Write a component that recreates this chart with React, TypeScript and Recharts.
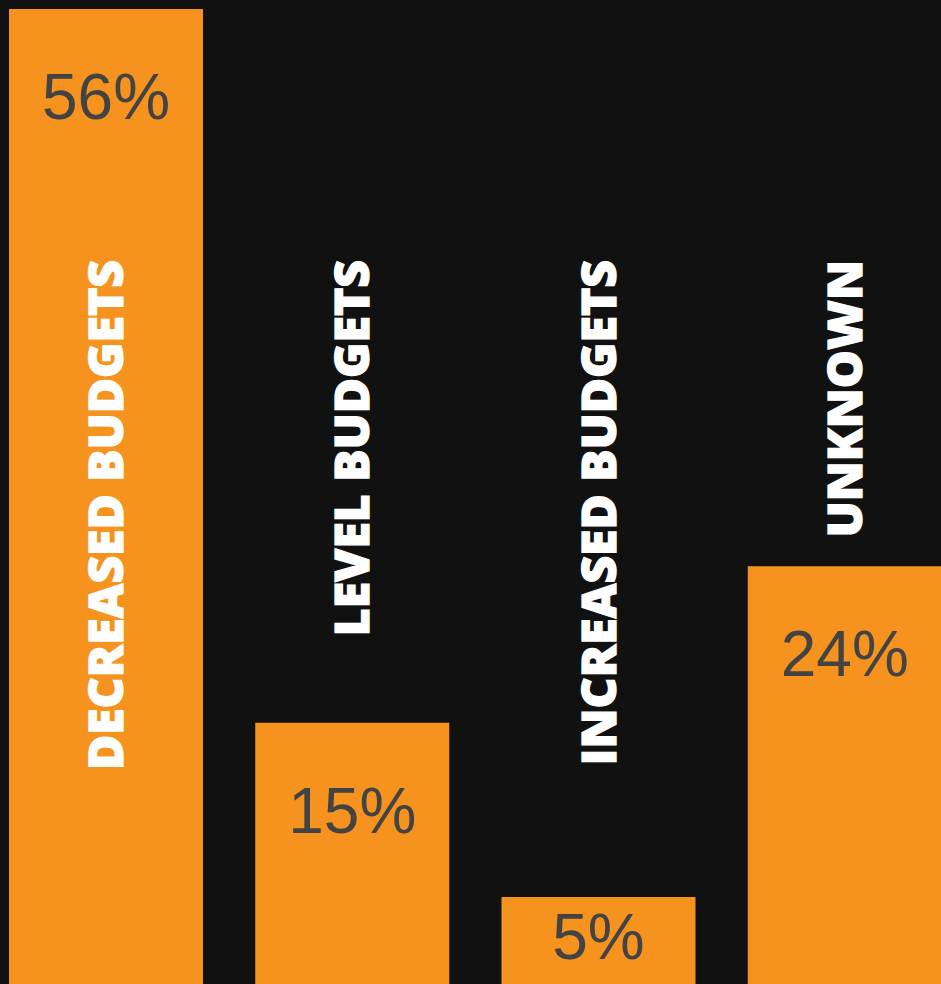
import { BarChart, Bar, XAxis, YAxis, LabelList } from "recharts";

const categories = ["DECREASED BUDGETS", "LEVEL BUDGETS", "INCREASED BUDGETS", "UNKNOWN"];
const shares = [56, 15, 5, 24];

const chartData = categories.map((name, i) => ({ name, share: shares[i] }));

const ORANGE = "#f6931f";
const BG = "#111111";

// percent value, sits near the top of each bar (centred when the bar is short)
function ValueLabel(props: any) {
  const { x, y, width, height, value } = props;
  const baseline = y + Math.min(110, height / 2 + 19);
  return (
    <text
      x={x + width / 2}
      y={baseline}
      textAnchor="middle"
      fill="#434343"
      fontFamily="'Liberation Sans', Arial, sans-serif"
      fontSize={64}
    >
      {value}%
    </text>
  );
}

// rotated category name, all ending at the same height
function CategoryLabel(props: any) {
  const { x, width, value } = props;
  const cx = x + width / 2 + 17;
  return (
    <text
      transform={`translate(${cx}, 260) rotate(-90)`}
      textAnchor="end"
      fill="#ffffff"
      stroke="#ffffff"
      strokeWidth={1.2}
      fontFamily="'Open Sans', Lato, sans-serif"
      fontWeight={800}
      fontSize={48}
    >
      {value}
    </text>
  );
}

export default function App() {
  return (
    <div style={{ width: 941, height: 984, overflow: "hidden", background: BG, position: "relative" }}>
      <style>{"body{margin:0;background:#111111}"}</style>
      <div style={{ position: "absolute", left: -17, top: 0 }}>
        <BarChart
          width={985}
          height={984}
          data={chartData}
          margin={{ top: 9, right: 0, bottom: 0, left: 0 }}
          barCategoryGap={26}
        >
          <XAxis dataKey="name" hide />
          <YAxis hide domain={[0, 56]} />
          <Bar dataKey="share" fill={ORANGE} isAnimationActive={false}>
            <LabelList dataKey="share" content={<ValueLabel />} />
            <LabelList dataKey="name" content={<CategoryLabel />} />
          </Bar>
        </BarChart>
      </div>
    </div>
  );
}
